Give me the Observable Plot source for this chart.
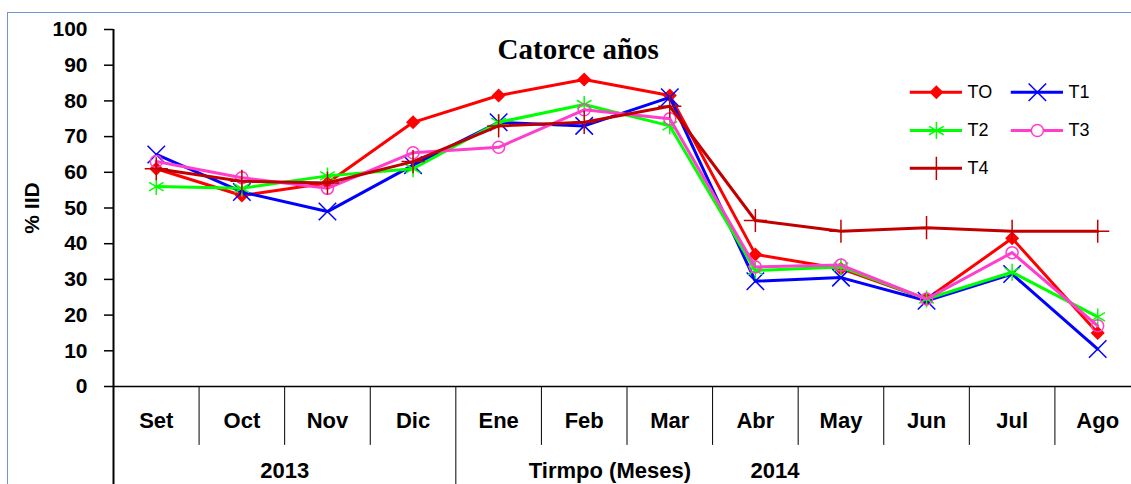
<!DOCTYPE html>
<html>
<head>
<meta charset="utf-8">
<script src="https://cdn.jsdelivr.net/npm/d3@7"></script>
<script src="https://cdn.jsdelivr.net/npm/@observablehq/plot@0.6"></script>
<style>
  html, body { margin: 0; padding: 0; background: #fff; overflow: hidden; }
  #wrap { position: relative; width: 1131px; height: 484px; }
  #border { position: absolute; left: 7px; top: 12px; width: 1140px; height: 500px; border: 1.5px solid #6f97cf; box-sizing: border-box; pointer-events: none; }
  #chart { position: absolute; left: 0; top: 0; }
</style>
</head>
<body>
<div id="wrap">
  <div id="chart"></div>
  <div id="border"></div>
</div>
<script>
const months = ["Set","Oct","Nov","Dic","Ene","Feb","Mar","Abr","May","Jun","Jul","Ago"];
const seriesNames = ["TO","T1","T2","T3","T4"];
const TO = [61, 53.5, 57, 74, 81.5, 86, 81.5, 37, 33, 24.5, 41.5, 15];
const T1 = [65, 54.5, 49, 62, 74, 73, 81, 29.5, 30.5, 24, 31.5, 10.5];
const T2 = [56, 55.5, 59, 61, 74, 79, 73, 32.5, 33.5, 24.5, 32, 19.5];
const T3 = [63, 58.5, 55.5, 65.5, 67, 77.5, 75, 33.5, 34, 24.5, 37.5, 17];
const T4 = [61, 57.5, 57, 63, 73, 74, 78.5, 46.5, 43.5, 44.5, 43.5, 43.5];
const yTicks = [0,10,20,30,40,50,60,70,80,90,100];
const years = ["2013", "2014"];
const title = "Catorce años";
const xTitle = "Tirmpo (Meses)";
const yTitle = "% IID";

const valuesBy = {TO, T1, T2, T3, T4};
const styles = {
  TO: {color: "#FF0000", symbol: "square", rotate: 45, fill: true, r: 5.6},
  T1: {color: "#0000FF", symbol: "times", rotate: 0, fill: false, r: 8},
  T2: {color: "#00FF00", symbol: "asterisk", rotate: 0, fill: false, r: 8},
  T3: {color: "#FF3FCC", symbol: "circle", rotate: 0, fill: false, r: 6},
  T4: {color: "#C00000", symbol: "plus", rotate: 0, fill: false, r: 7.5}
};

const font = "Liberation Sans, Arial, sans-serif";
const marks = [];

// axes lines and separators
marks.push(Plot.ruleY([0], {x1: 0, x2: 12.2, stroke: "#000", strokeWidth: 1.5}));
marks.push(Plot.ruleX([0], {y1: -30, y2: 100, stroke: "#000", strokeWidth: 2}));
const seps = d3.range(1, 12);
marks.push(Plot.ruleX(seps, {x: d => d, y1: 0, y2: d => d === 4 ? -30 : -16.5, stroke: "#000", strokeWidth: 1}));
// y ticks and labels
marks.push(Plot.ruleY(yTicks, {y: d => d, x1: -0.105, x2: 0, stroke: "#000", strokeWidth: 1.5}));
marks.push(Plot.text(yTicks, {x: 0, y: d => d, dx: -26, text: d => String(d), textAnchor: "end", fontSize: 21, fontWeight: "bold", fontFamily: font, fill: "#000", lineAnchor: "middle"}));

// month labels
marks.push(Plot.text(months, {x: (d, i) => i + 0.5, y: -9.6, text: d => d, fontSize: 22, fontWeight: "bold", fontFamily: font, fill: "#000", lineAnchor: "middle"}));
// year labels
marks.push(Plot.text(years, {x: (d, i) => i === 0 ? 2 : 7.73, y: -23.7, text: d => d, fontSize: 22, fontWeight: "bold", fontFamily: font, fill: "#000", lineAnchor: "middle"}));
marks.push(Plot.text([xTitle], {x: 5.8, y: -23.7, text: d => d, fontSize: 22, fontWeight: "bold", fontFamily: font, fill: "#000", lineAnchor: "middle"}));
// y title
marks.push(Plot.text([yTitle], {x: -0.95, y: 50, text: d => d, rotate: -90, fontSize: 21, fontWeight: "bold", fontFamily: font, fill: "#000", lineAnchor: "middle"}));
// chart title
marks.push(Plot.text([title], {x: 5.43, y: 94.2, text: d => d, fontSize: 29, fontWeight: "bold", fontFamily: "Liberation Serif, Times New Roman, serif", fill: "#000", lineAnchor: "middle"}));

// series
for (const name of seriesNames) {
  const s = styles[name];
  const data = months.map((m, i) => ({x: i + 0.5, y: valuesBy[name][i]}));
  marks.push(Plot.line(data, {x: "x", y: "y", stroke: s.color, strokeWidth: 3, curve: "linear"}));
  marks.push(Plot.dot(data, {x: "x", y: "y", symbol: s.symbol, r: s.r, rotate: s.rotate,
    fill: s.fill ? s.color : "none",
    stroke: s.fill ? "none" : s.color, strokeWidth: 1.5}));
}

// legend
const legendPos = {
  TO: {x0: 9.31, y: 82.4}, T1: {x0: 10.49, y: 82.4},
  T2: {x0: 9.31, y: 71.7}, T3: {x0: 10.49, y: 71.7},
  T4: {x0: 9.31, y: 61.1}
};
const legendLen = 0.61;
for (const name of seriesNames) {
  const s = styles[name];
  const p = legendPos[name];
  marks.push(Plot.ruleY([p.y], {x1: p.x0, x2: p.x0 + legendLen, stroke: s.color, strokeWidth: 3}));
  marks.push(Plot.dot([p], {x: d => d.x0 + legendLen / 2, y: "y", symbol: s.symbol, r: s.r, rotate: s.rotate,
    fill: s.fill ? s.color : (s.symbol === "circle" ? "white" : "none"),
    stroke: s.fill ? "none" : s.color, strokeWidth: 1.5}));
  marks.push(Plot.text([name], {x: p.x0 + legendLen + 0.06, y: p.y, text: d => d, textAnchor: "start", fontSize: 18, fontFamily: font, fill: "#000", lineAnchor: "middle"}));
}

const chart = Plot.plot({
  width: 1131,
  height: 484,
  marginLeft: 113,
  marginRight: 0,
  marginTop: 29,
  marginBottom: 98,
  x: {type: "linear", domain: [0, 12], range: [113, 1140], axis: null},
  y: {type: "linear", domain: [0, 100], range: [386, 29], axis: null},
  style: {background: "white", overflow: "hidden"},
  marks
});
document.getElementById("chart").appendChild(chart);
</script>
</body>
</html>
